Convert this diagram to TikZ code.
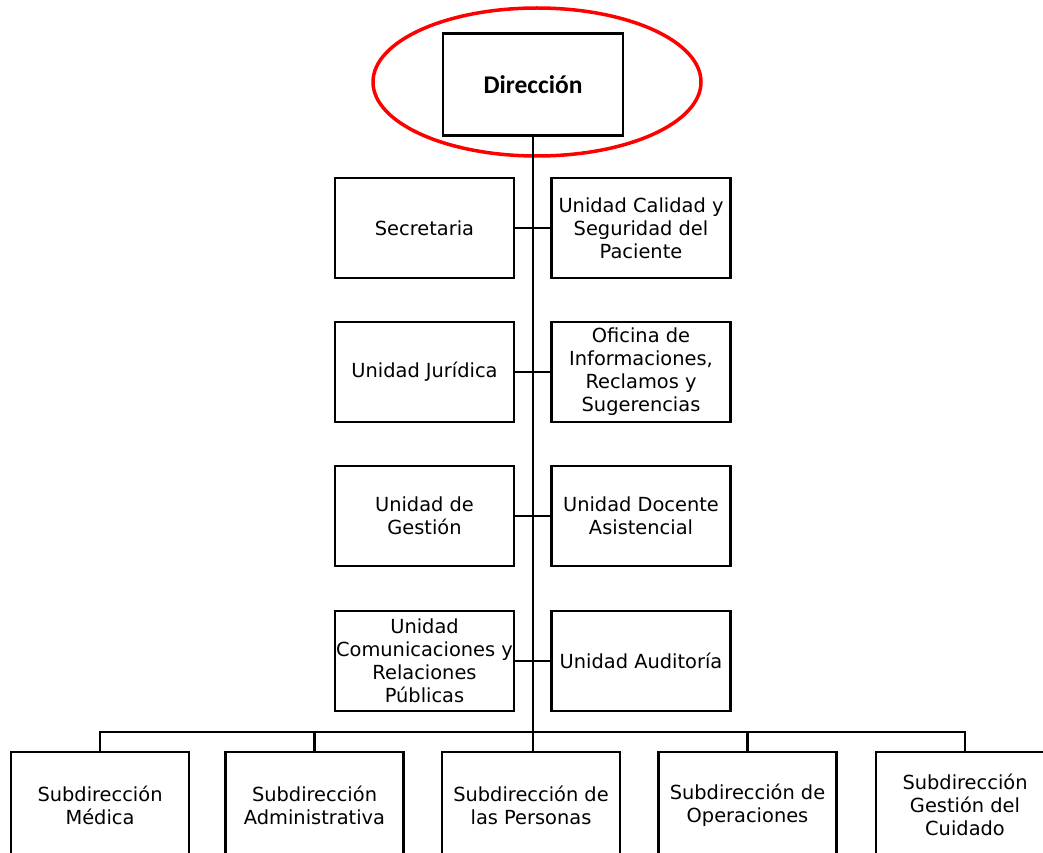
\documentclass[tikz,border=0pt]{standalone}
\usepackage{fontspec}
\setmainfont{DejaVu Sans}
\newfontfamily\dirfont{Carlito}
\begin{document}
\begin{tikzpicture}[x=1pt,y=-1pt,
  box/.style={draw=black, line width=2.6pt, minimum width=179pt, minimum height=100pt, inner sep=0pt, align=center, font=\fontsize{19.4}{23}\selectfont},
  sub/.style={box, minimum width=178pt, minimum height=106pt},
  con/.style={line width=2.6pt}]
\useasboundingbox (0,0) rectangle (1043,853);
\clip (0,0) rectangle (1043,853);
\node[box, minimum width=180pt, minimum height=102pt, font=\dirfont\bfseries\fontsize{25.5}{30}\selectfont] (dir) at (533,84.5) {Dirección};
\draw[red, line width=3.5pt] (537,82) ellipse [x radius=164, y radius=74];
% side units
\node[box] (l1) at (424.5,228) {Secretaria};
\node[box] (r1) at (641,228) {Unidad Calidad y\\Seguridad del\\Paciente};
\node[box] (l2) at (424.5,372) {Unidad Jurídica};
\node[box] (r2) at (641,372) {Oficina de\\Informaciones,\\Reclamos y\\Sugerencias};
\node[box] (l3) at (424.5,516) {Unidad de\\Gestión};
\node[box] (r3) at (641,516) {Unidad Docente\\Asistencial};
\node[box] (l4) at (424.5,661) {Unidad\\Comunicaciones y\\Relaciones\\Públicas};
\node[box] (r4) at (641,661) {Unidad Auditoría};
% subdirections
\node[sub] (m1) at (100,805) {Subdirección\\Médica};
\node[sub] (m2) at (314.5,805) {Subdirección\\Administrativa};
\node[sub] (m3) at (531,805) {Subdirección de\\las Personas};
\node[sub] (m4) at (747.5,805) {Subdirección de\\Operaciones};
\node[sub] (m5) at (965,805) {Subdirección\\Gestión del\\Cuidado};
\coordinate (bus) at (532,732);
% connectors
\draw[con] (dir.south) -- (dir.south |- m3.north);
\draw[con] (l1.east) -- (r1.west);
\draw[con] (l2.east) -- (r2.west);
\draw[con] (l3.east) -- (r3.west);
\draw[con] (l4.east) -- (r4.west);
\draw[con] (m1.north) -- (m1.north |- bus) -- (m5.north |- bus) -- (m5.north);
\draw[con] (m2.north) -- (m2.north |- bus);
\draw[con] (m4.north) -- (m4.north |- bus);
\end{tikzpicture}
\end{document}
